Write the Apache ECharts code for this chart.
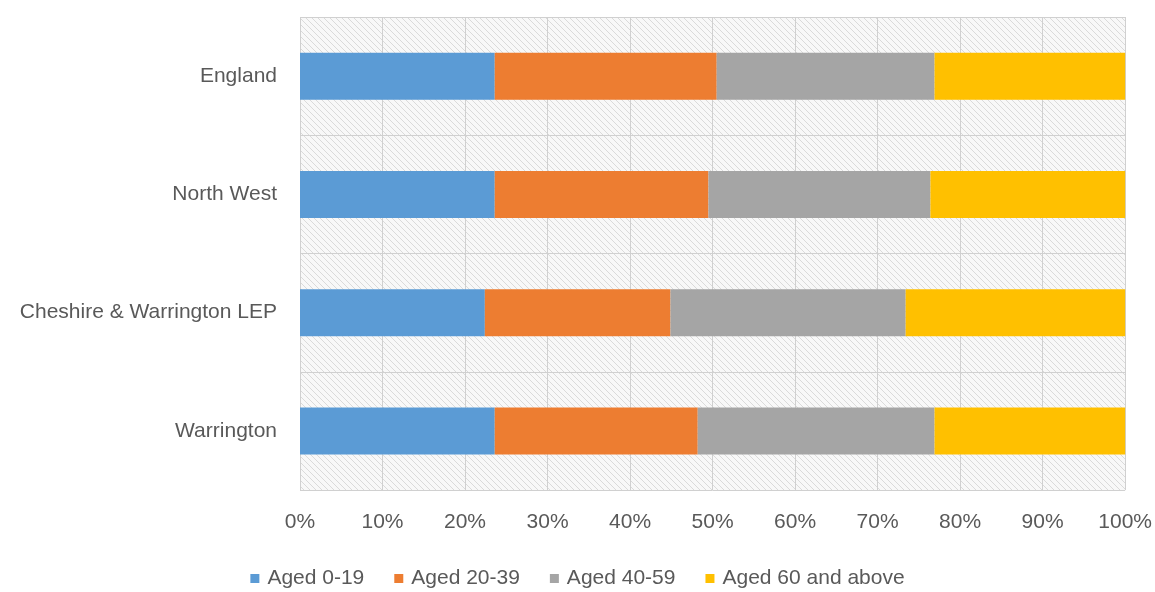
<!DOCTYPE html>
<html>
<head>
<meta charset="utf-8">
<script src="https://cdn.jsdelivr.net/npm/echarts@6/dist/echarts.min.js"></script>
<style>html,body{margin:0;padding:0;background:#fff;}#c{width:1155px;height:592px;}</style>
</head>
<body>
<div id="c"></div>
<script>
const categories = ['England', 'North West', 'Cheshire & Warrington LEP', 'Warrington'];
const seriesNames = ['Aged 0-19', 'Aged 20-39', 'Aged 40-59', 'Aged 60 and above'];
const aged0_19 = [23.6, 23.6, 22.4, 23.6];
const aged20_39 = [26.9, 25.9, 22.5, 24.6];
const aged40_59 = [26.4, 26.9, 28.5, 28.7];
const aged60plus = [23.1, 23.6, 26.6, 23.1];
const xTicks = ['0%', '10%', '20%', '30%', '40%', '50%', '60%', '70%', '80%', '90%', '100%'];

const colors = ['#5B9BD5', '#ED7D31', '#A5A5A5', '#FFC000'];
const values = [aged0_19, aged20_39, aged40_59, aged60plus];

// hatch pattern
const s = 6;
const cv = document.createElement('canvas');
cv.width = s; cv.height = s;
const cx = cv.getContext('2d');
cx.fillStyle = '#f8f8f8';
cx.fillRect(0, 0, s, s);
cx.strokeStyle = '#dadada';
cx.lineWidth = 1;
for (const k of [-s, 0, s]) {
  cx.beginPath();
  cx.moveTo(k, 0);
  cx.lineTo(k + s, s);
  cx.stroke();
}

const font = 'Liberation Sans, Arial, sans-serif';
const chart = echarts.init(document.getElementById('c'), null, {renderer: 'canvas'});
chart.setOption({
  animation: false,
  color: colors,
  grid: {
    left: 300, right: 29, top: 17, bottom: 102,
    show: true,
    backgroundColor: {image: cv, repeat: 'repeat'},
    borderWidth: 0
  },
  legend: {
    data: seriesNames,
    bottom: -2,
    left: 'center',
    icon: 'rect',
    itemWidth: 9,
    itemHeight: 9,
    itemGap: 30,
    textStyle: {fontFamily: font, fontSize: 21, color: '#595959', padding: [0, 0, 0, 3]}
  },
  xAxis: {
    type: 'value',
    min: 0, max: 100, interval: 10,
    axisLabel: {
      fontFamily: font, fontSize: 21, color: '#595959', margin: 22,
      formatter: function (v) { return xTicks[Math.round(v / 10)]; }
    },
    axisLine: {show: false},
    axisTick: {show: false},
    splitLine: {show: true, lineStyle: {color: '#d0d0d0', width: 1}}
  },
  yAxis: {
    type: 'category',
    inverse: true,
    data: categories,
    axisLabel: {fontFamily: font, fontSize: 21, color: '#595959', margin: 23},
    axisLine: {show: false},
    axisTick: {show: false},
    splitLine: {show: true, interval: 0, lineStyle: {color: '#d0d0d0', width: 1}}
  },
  series: seriesNames.map((n, i) => ({
    name: n,
    type: 'bar',
    stack: 'total',
    barWidth: 47,
    data: values[i],
    itemStyle: {color: colors[i]}
  }))
});
</script>
</body>
</html>
